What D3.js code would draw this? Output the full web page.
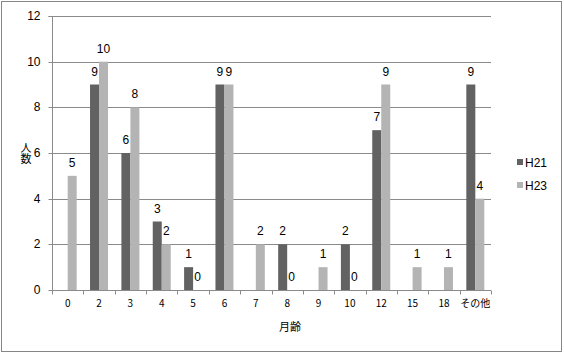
<!DOCTYPE html>
<html><head><meta charset="utf-8">
<script src="https://cdn.jsdelivr.net/npm/d3@7"></script>
<style>body{margin:0;background:#fff}svg{display:block}</style>
</head><body>
<script>
const categories = ["0","2","3","4","5","6","7","8","9","10","12","15","18","その他"];
const h21 = [null,9,6,3,1,9,null,2,null,2,7,null,null,9];
const h23 = [5,10,8,2,0,9,2,0,1,0,9,1,1,4];
const seriesNames = ["H21","H23"];
const colors = ["#626262","#b4b4b4"];
const yTicks = [0,2,4,6,8,10,12];

(function(){
const W=564,H=354;
const svg=d3.select("body").append("svg").attr("width",W).attr("height",H);
svg.append("rect").attr("x",1.5).attr("y",1.5).attr("width",560).attr("height",350)
  .attr("fill","#fff").attr("stroke","#868686");

const pl=52,pr=491,pt=16,pb=290;
const x=d3.scaleBand().domain(categories).range([pl,pr]);
const y=d3.scaleLinear().domain([0,12]).range([pb,pt]);
const font="'Liberation Sans', Arial, sans-serif";

// grid
svg.append("g").selectAll("line").data(yTicks.filter(d=>d>0)).join("line")
  .attr("x1",pl).attr("x2",pr).attr("y1",d=>Math.round(y(d))+0.5).attr("y2",d=>Math.round(y(d))+0.5)
  .attr("stroke","#8a8a8a");

// bars
const bw=9;
const series=[h21,h23];
series.forEach((vals,si)=>{
  const g=svg.append("g");
  categories.forEach((c,i)=>{
    const v=vals[i];
    if(v===null) return;
    const cx=x(c)+x.bandwidth()/2;
    const bx=si===0?cx-bw:cx;
    if(v>0) g.append("rect").attr("x",bx).attr("y",y(v)).attr("width",bw).attr("height",y(0)-y(v)).attr("fill",colors[si]);
    g.append("text").attr("x",bx+bw/2).attr("y",y(v)-9).attr("text-anchor","middle")
      .attr("font-family",font).attr("font-size",12).attr("fill","#000").text(v);
  });
});

// y axis
const ya=svg.append("g").attr("transform",`translate(${pl+0.5},0)`)
  .call(d3.axisLeft(y).tickValues(yTicks).tickSize(4).tickPadding(8));
ya.select(".domain").attr("stroke","#8a8a8a").attr("d",`M-4,${pt+0.5}H0V${pb+0.5}`);
ya.selectAll(".tick line").attr("stroke","#8a8a8a");
ya.selectAll(".tick text").attr("font-family",font).attr("font-size",12).attr("fill","#000");
ya.selectAll(".tick").attr("transform",d=>`translate(0,${Math.round(y(d))+0.5})`);

// x axis
const xa=svg.append("g").attr("transform",`translate(0,${pb+0.5})`);
xa.append("line").attr("x1",pl).attr("x2",pr).attr("stroke","#8a8a8a");
const bounds=categories.map(c=>x(c)).concat([pr]);
xa.selectAll("line.t").data(bounds).join("line").attr("class","t")
  .attr("x1",d=>Math.round(d)+0.5).attr("x2",d=>Math.round(d)+0.5).attr("y1",0).attr("y2",4).attr("stroke","#8a8a8a");
xa.selectAll("text").data(categories).join("text")
  .attr("x",d=>x(d)+x.bandwidth()/2).attr("y",16).attr("text-anchor","middle")
  .attr("font-family","'Noto Sans CJK JP', sans-serif").attr("font-size",10).attr("fill","#000").text(d=>d);

// axis titles
svg.append("text").attr("x",290).attr("y",331).attr("text-anchor","middle")
  .attr("font-family","'Noto Sans CJK JP', sans-serif").attr("font-size",11).text("月齢");
svg.append("text").attr("x",26).attr("y",142).attr("text-anchor","start")
  .style("writing-mode","vertical-rl").style("text-orientation","upright")
  .attr("font-family","'Noto Sans CJK JP', sans-serif").attr("font-size",11).text("人数");

// legend
seriesNames.forEach((n,i)=>{
  const ly=162+i*23;
  svg.append("rect").attr("x",517).attr("y",ly-3).attr("width",6).attr("height",6).attr("fill",colors[i]);
  svg.append("text").attr("x",525).attr("y",ly+4.5).attr("font-family",font).attr("font-size",12).text(n);
});
})();
</script>
</body></html>
